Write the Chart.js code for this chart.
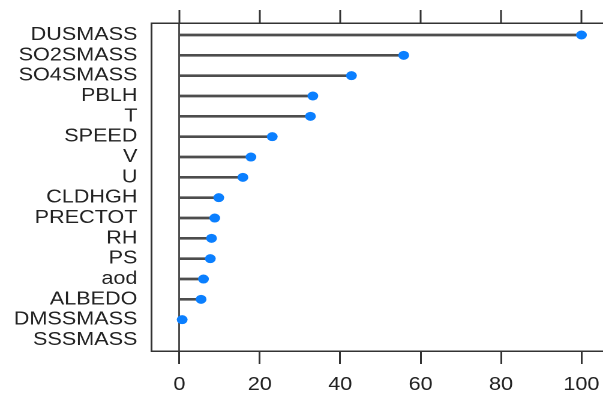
<!DOCTYPE html>
<html>
<head>
<meta charset="utf-8">
<script src="https://cdn.jsdelivr.net/npm/chart.js@4"></script>
<style>
  html, body { margin: 0; padding: 0; background: #fff; overflow: hidden; width: 603px; height: 396px; }
  #wrap { width: 515px; height: 396px; transform: scaleX(1.2); transform-origin: 0 0; }
</style>
</head>
<body>
<div id="wrap"><canvas id="c" width="515" height="396"></canvas></div>
<script>
const categories = ['DUSMASS','SO2SMASS','SO4SMASS','PBLH','T','SPEED','V','U','CLDHGH','PRECTOT','RH','PS','aod','ALBEDO','DMSSMASS','SSSMASS'];
const importance = [100, 55.8, 42.8, 33.2, 32.6, 23.1, 17.8, 15.8, 9.8, 8.8, 8.0, 7.7, 6.0, 5.4, 0.7, null];
const xTicks = [0, 20, 40, 60, 80, 100];

const FONT = '"Liberation Sans", Arial, Helvetica, sans-serif';
const dark = '#333333';

const stems = categories.map((c, i) => ({ y: i, x: importance[i] }));
const dots = categories.map((c, i) => ({ y: i, x: importance[i] })).filter(p => p.x !== null);

const setXTicks = s => { s.ticks = xTicks.map(v => ({ value: v })); };

new Chart(document.getElementById('c'), {
  type: 'scatter',
  data: {
    datasets: [
      {
        type: 'bar',
        indexAxis: 'y',
        order: 2,
        data: stems,
        backgroundColor: '#4d4d4d',
        borderWidth: 0,
        barThickness: 2,
        xAxisID: 'x',
        yAxisID: 'y'
      },
      {
        type: 'scatter',
        order: 1,
        data: dots,
        backgroundColor: '#0a7fff',
        borderWidth: 0,
        pointRadius: 4.5,
        pointHoverRadius: 4.5,
        xAxisID: 'x',
        yAxisID: 'y'
      }
    ]
  },
  options: {
    responsive: false,
    animation: false,
    devicePixelRatio: 2,
    layout: { padding: { left: 10, right: 7, top: 10, bottom: 1 } },
    plugins: { legend: { display: false }, tooltip: { enabled: false } },
    scales: {
      x: {
        type: 'linear',
        position: 'bottom',
        offset: false,
        min: -7,
        max: 107,
        afterBuildTicks: setXTicks,
        afterFit: s => { s.height = 44; },
        grid: {
          offset: false,
          drawOnChartArea: true,
          color: ctx => (ctx.tick && ctx.tick.value === 0) ? '#4d4d4d' : 'rgba(0,0,0,0)',
          lineWidth: 1.5,
          drawTicks: true,
          tickLength: 13,
          tickColor: dark,
          tickWidth: 1.5
        },
        border: { display: true, color: dark, width: 1.5 },
        ticks: { font: { family: FONT, size: 18 }, color: '#222', padding: 10, maxRotation: 0 }
      },
      x2: {
        type: 'linear',
        axis: 'x',
        position: 'top',
        offset: false,
        min: -7,
        max: 107,
        afterBuildTicks: setXTicks,
        afterFit: s => { s.height = 13; },
        grid: {
          offset: false,
          drawOnChartArea: false,
          drawTicks: true,
          tickLength: 13,
          tickColor: dark,
          tickWidth: 1.5
        },
        border: { display: true, color: dark, width: 1.5 },
        ticks: { display: false }
      },
      y: {
        type: 'linear',
        position: 'left',
        offset: false,
        reverse: true,
        min: -0.59,
        max: 15.54,
        afterBuildTicks: s => { s.ticks = categories.map((c, i) => ({ value: i })); },
        afterFit: s => { s.width = 116; },
        grid: { display: false, drawTicks: false, offset: false },
        border: { display: true, color: dark, width: 1.5 },
        ticks: {
          font: { family: FONT, size: 18 },
          color: '#222',
          padding: 11.5,
          autoSkip: false,
          callback: v => categories[v]
        }
      }
    }
  }
});
</script>
</body>
</html>
